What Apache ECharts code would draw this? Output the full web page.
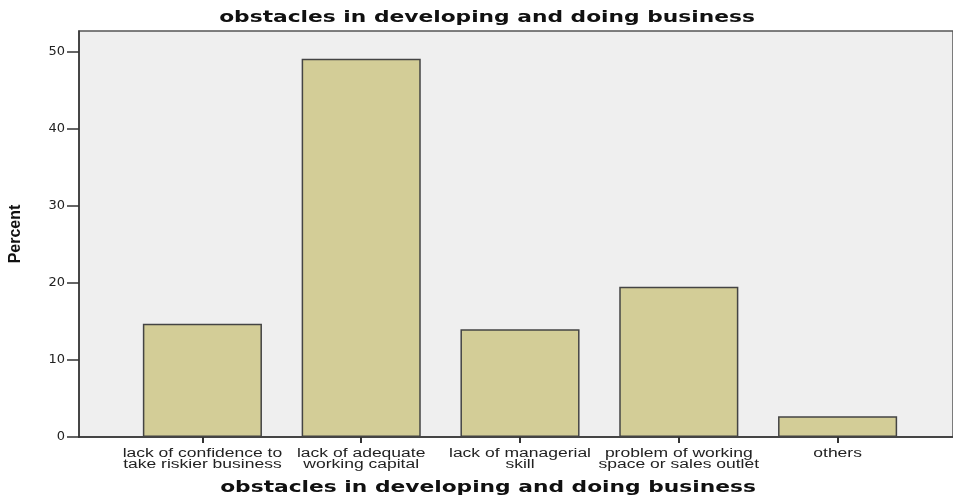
<!DOCTYPE html>
<html>
<head>
<meta charset="utf-8">
<script src="https://cdn.jsdelivr.net/npm/echarts@6/dist/echarts.min.js"></script>
<style>
  html, body { margin: 0; padding: 0; background: #fff; }
  #bar { width: 953px; height: 498px; }
</style>
</head>
<body>
<div id="bar"></div>
<script>
const categories = [
  'lack of confidence to\ntake riskier business',
  'lack of adequate\nworking capital',
  'lack of managerial\nskill',
  'problem of working\nspace or sales outlet',
  'others'
]
const percentValues = [14.7, 49.1, 14.0, 19.5, 2.7]
const yTicks = [0, 10, 20, 30, 40, 50]

const chartTitle = 'obstacles in developing and doing business'
const yMax = 52.7

const chart = echarts.init(document.getElementById('bar'))

// SPSS draws its text stretched wide, so scale the text horizontally
const headingStyle = {
  text: chartTitle,
  fontFamily: 'DejaVu Sans',
  fontWeight: 'bold',
  fontSize: 16,
  fill: '#111',
  align: 'center',
  verticalAlign: 'middle'
}

chart.setOption({
  animation: false,
  grid: [{
    // background frame
    left: 79, top: 31, width: 883, bottom: 61,
    show: true,
    backgroundColor: '#efefef',
    borderColor: '#555',
    borderWidth: 1.5
  }, {
    // bars
    left: 123, top: 31, width: 794, bottom: 61
  }],
  xAxis: [{
    gridIndex: 0,
    type: 'value',
    min: 0, max: 1,
    axisLine: { show: true, lineStyle: { color: '#333', width: 1.5 } },
    axisTick: { show: false },
    axisLabel: { show: false },
    splitLine: { show: false }
  }, {
    gridIndex: 1,
    type: 'category',
    data: categories,
    axisLine: { show: false },
    axisTick: { show: true, alignWithLabel: true, length: 6, lineStyle: { color: '#333', width: 2 } },
    axisLabel: { show: false }
  }],
  yAxis: [{
    gridIndex: 0,
    type: 'value',
    min: 0,
    max: yMax,
    name: 'Percent',
    nameLocation: 'middle',
    nameGap: 55,
    nameRotate: 90,
    nameTextStyle: { fontFamily: 'Liberation Sans', fontWeight: 'bold', fontSize: 16, color: '#111' },
    axisLine: { show: true, lineStyle: { color: '#333', width: 1.5 } },
    axisTick: { show: true, length: 12, customValues: yTicks, lineStyle: { color: '#333', width: 1.5 } },
    axisLabel: { customValues: yTicks, margin: 14, fontFamily: 'DejaVu Sans', fontSize: 13, color: '#222' },
    splitLine: { show: false }
  }, {
    gridIndex: 1,
    type: 'value',
    min: 0,
    max: yMax,
    show: false,
    splitLine: { show: false }
  }],
  series: [{
    name: 'Percent',
    type: 'bar',
    xAxisIndex: 1,
    yAxisIndex: 1,
    barWidth: '75%',
    data: percentValues,
    itemStyle: { color: '#d3cd97', borderColor: '#444', borderWidth: 1.5 }
  }]
})

// category labels placed from the axis scale, stretched like the headings
const zeroY = chart.convertToPixel({ yAxisIndex: 1 }, 0)
const labelGraphics = categories.map((c, i) => ({
  type: 'text',
  x: chart.convertToPixel({ xAxisIndex: 1 }, i),
  y: zeroY + 11,
  scaleX: 1.4,
  style: {
    text: c,
    fontFamily: 'Liberation Sans',
    fontSize: 12.5,
    lineHeight: 11,
    fill: '#222',
    align: 'center',
    verticalAlign: 'top'
  }
}))

chart.setOption({
  graphic: [
    { type: 'text', x: 487, y: 18, scaleX: 1.36, style: headingStyle },
    { type: 'text', x: 488, y: 488, scaleX: 1.36, style: headingStyle }
  ].concat(labelGraphics)
})
</script>
</body>
</html>
